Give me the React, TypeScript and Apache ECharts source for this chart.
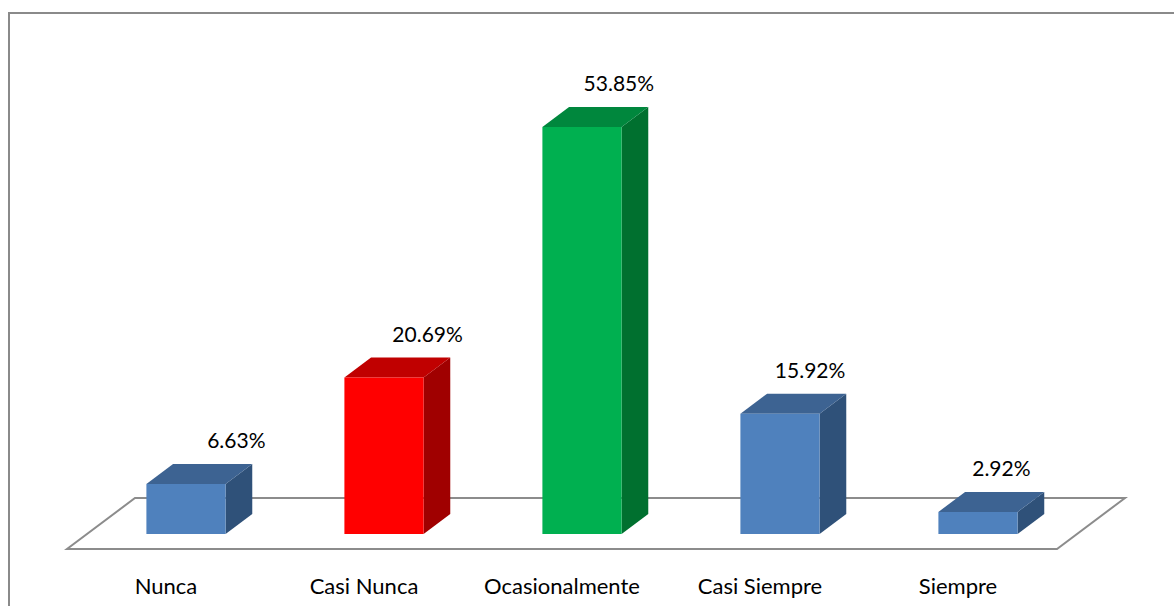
import React, { useEffect, useRef } from "react";
import * as echarts from "echarts";

const categories = ["Nunca", "Casi Nunca", "Ocasionalmente", "Casi Siempre", "Siempre"];
const values = [6.63, 20.69, 53.85, 15.92, 2.92];
const valueLabels = ["6.63%", "20.69%", "53.85%", "15.92%", "2.92%"];

// colour themes: [front, top, side]
const BLUE = ["#4F81BD", "#3D6392", "#2F5179"];
const RED = ["#FF0000", "#C00000", "#A00000"];
const GREEN = ["#00B050", "#00873D", "#00702F"];
const barThemes = [BLUE, RED, GREEN, BLUE, BLUE];

const FONT = "Lato, 'Open Sans', sans-serif";

export default function App() {
  const ref = useRef<HTMLDivElement>(null);
  useEffect(() => {
    if (!ref.current) return;
    const chart = echarts.init(ref.current, null, { renderer: "svg" });

    // depth geometry (floor depth & bar depth, oblique projection)
    const FLOOR_DY = 51;
    const K = 68 / 51;
    const BAR_OFF_DY = 15;
    const BAR_DY = 20;

    const floorItem = (params: any) => {
      const cs = params.coordSys;
      const x0 = cs.x;
      const x1 = cs.x + cs.width;
      const yb = cs.y + cs.height;
      const dx = FLOOR_DY * K;
      return {
        type: "polygon",
        shape: {
          points: [
            [x0, yb],
            [x1, yb],
            [x1 + dx, yb - FLOOR_DY],
            [x0 + dx, yb - FLOOR_DY],
          ],
        },
        style: { fill: "none", stroke: "#8C8C8C", lineWidth: 2 },
      };
    };

    const barItem = (params: any, api: any) => {
      const idx = api.value(0);
      const v = api.value(1);
      const [cx, y0] = api.coord([idx, 0]);
      const yv = api.coord([idx, v])[1];
      const band = api.size([1, 0])[0];
      const w = band * 0.4;
      const offX = BAR_OFF_DY * K;
      const fx = cx + offX;
      const yb = y0 - BAR_OFF_DY;
      const yt = yb - (y0 - yv);
      const xl = fx - w / 2;
      const xr = fx + w / 2;
      const ddx = BAR_DY * K;
      const ddy = BAR_DY;
      const theme = barThemes[params.dataIndex];
      const cs = params.coordSys;
      const backCenter = fx + ddx / 2;
      // label drifts with perspective: further right, less offset
      const labelX = backCenter + 37 - ((backCenter - cs.x) - 132) * 0.034;
      return {
        type: "group",
        children: [
          {
            type: "polygon",
            shape: { points: [[xr, yt], [xr + ddx, yt - ddy], [xr + ddx, yb - ddy], [xr, yb]] },
            style: { fill: theme[2] },
          },
          {
            type: "polygon",
            shape: { points: [[xl, yt], [xr, yt], [xr + ddx, yt - ddy], [xl + ddx, yt - ddy]] },
            style: { fill: theme[1] },
          },
          {
            type: "rect",
            shape: { x: xl, y: yt, width: w, height: yb - yt },
            style: { fill: theme[0] },
          },
          {
            type: "text",
            style: {
              text: valueLabels[params.dataIndex],
              x: labelX,
              y: yt - ddy - 24,
              align: "center",
              verticalAlign: "middle",
              fill: "#000",
              font: `21px ${FONT}`,
            },
          },
        ],
      };
    };

    chart.setOption({
      animation: false,
      backgroundColor: "#fff",
      grid: { left: 67, right: 117, top: 95.4, bottom: 57 },
      xAxis: {
        type: "category",
        data: categories,
        axisLine: { show: false },
        axisTick: { show: false },
        axisLabel: {
          interval: 0,
          margin: 25,
          color: "#000",
          fontSize: 22,
          fontFamily: FONT,
        },
      },
      yAxis: {
        type: "value",
        min: 0,
        max: 60,
        show: false,
        splitLine: { show: false },
      },
      graphic: [
        {
          type: "rect",
          shape: { x: 9, y: 13, width: 1300, height: 700 },
          style: { fill: "none", stroke: "#8A8A8A", lineWidth: 2 },
          silent: true,
          z: 100,
        },
      ],
      series: [
        {
          type: "custom",
          z: 1,
          renderItem: floorItem,
          data: [[0, 0]],
          silent: true,
        },
        {
          type: "custom",
          z: 2,
          renderItem: barItem,
          data: values.map((v, i) => [i, v]),
          encode: { x: 0, y: 1 },
        },
      ],
    });
    return () => chart.dispose();
  }, []);
  return (
    <div
      ref={ref}
      style={{ position: "absolute", left: 0, top: 0, width: 1174, height: 606 }}
    />
  );
}
